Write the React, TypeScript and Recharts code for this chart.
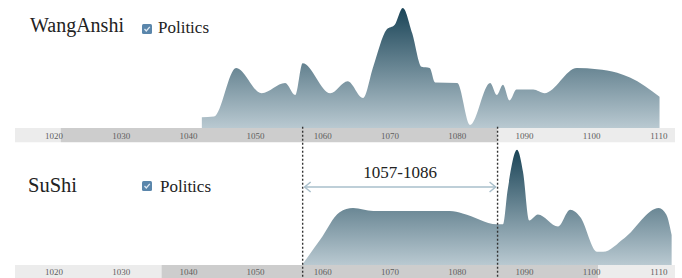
import { ComposedChart, Area, XAxis, YAxis, ReferenceArea, ReferenceLine } from "recharts";

// Wang Anshi, politics activity (relative height, peak = 100)
const wangYears = [
  1042, 1043.8, 1047.1, 1050.9, 1054.4, 1055.9, 1057, 1061.1, 1063.7, 1066, 1067.5, 1069.5,
  1070.7, 1071.9, 1073.3, 1074.7, 1075.9, 1076.7, 1080, 1081.9, 1084.9, 1085.9, 1086.8,
  1087.8, 1088.8, 1091.3, 1093, 1097.8, 1100.8, 1103.8, 1105.7, 1110.1,
];
const wangValues = [
  9, 9.5, 50, 29, 37.5, 27.5, 54, 29, 39, 25, 51, 82, 86, 100, 79, 51, 50, 38, 37.5, 2.5, 37.5,
  27.5, 36, 23, 32, 32, 29, 50, 49, 46, 42, 26,
];

// Su Shi, politics activity
const suYears = [
  1056.9, 1059.6, 1062.5, 1064.5, 1067.5, 1078.9, 1080.8, 1085.9, 1086.8, 1087.5, 1088.9,
  1089.8, 1090.7, 1092, 1095, 1096.8, 1098.3, 1100.8, 1101.7, 1104.9, 1110, 1111.1, 1111.9,
];
const suValues = [
  0, 21, 44, 47.5, 45, 45, 43, 34, 34, 62.5, 96, 77, 37, 42, 32, 46, 40, 11, 11, 22.5, 47.5, 42, 25,
];

const tickYears = [1020, 1030, 1040, 1050, 1060, 1070, 1080, 1090, 1100, 1110];
const wangLife = [1021, 1086];
const suLife = [1036, 1101];
const overlap = [1057, 1086];

const X_MIN = 1014.2;
const X_MAX = 1112.4;

const wangData = wangYears.map((year, i) => ({ year, value: wangValues[i] }));
const suData = suYears.map((year, i) => ({ year, value: suValues[i] }));

const serif = "'Liberation Serif', 'DejaVu Serif', serif";

// draws the year label inside both timeline bands
function YearLabels(props: any) {
  const { x1, label } = props;
  const style = { fontFamily: serif, fontSize: 9, fill: "#5e5e5e" };
  return (
    <g>
      <text x={x1} y={138.5} textAnchor="middle" {...style}>{label}</text>
      <text x={x1} y={274.5} textAnchor="middle" {...style}>{label}</text>
    </g>
  );
}

function RangeArrow(props: any) {
  const { x1, y1, x2 } = props;
  const c = "#a9bfcb";
  return (
    <g>
      <line x1={x1 + 2} y1={y1} x2={x2 - 2} y2={y1} stroke={c} strokeWidth={1.5} />
      <path d={`M${x1 + 8},${y1 - 5} L${x1 + 2},${y1} L${x1 + 8},${y1 + 5}`} stroke={c} strokeWidth={1.5} fill="none" />
      <path d={`M${x2 - 8},${y1 - 5} L${x2 - 2},${y1} L${x2 - 8},${y1 + 5}`} stroke={c} strokeWidth={1.5} fill="none" />
      <text x={(x1 + x2) / 2} y={y1 - 9} textAnchor="middle" fontFamily={serif} fontSize={17} fill="#222">
        {overlap[0]}-{overlap[1]}
      </text>
    </g>
  );
}

function Checkbox({ x, y }: { x: number; y: number }) {
  return (
    <g>
      <rect x={x} y={y} width={10} height={10} rx={1.5} fill="#5a86ab" />
      <path d={`M${x + 2.5},${y + 5} L${x + 4.3},${y + 7} L${x + 7.8},${y + 2.8}`} stroke="#dfe9f2" strokeWidth={1.3} fill="none" />
    </g>
  );
}

export default function App() {
  return (
    <div style={{ position: "absolute", left: 0, top: 0, width: 682, height: 278, background: "#fff" }}>
      <ComposedChart width={682} height={278} margin={{ top: 0, right: 7, bottom: 0, left: 15 }}>
        <defs>
          <linearGradient id="tealFade" x1="0" y1="0" x2="0" y2="1">
            <stop offset="0%" stopColor="#1a4457" />
            <stop offset="100%" stopColor="#b9c9d1" />
          </linearGradient>
        </defs>
        <XAxis type="number" dataKey="year" domain={[X_MIN, X_MAX]} allowDataOverflow hide />
        <YAxis yAxisId="top" hide type="number" domain={[-125, 106.67]} allowDataOverflow />
        <YAxis yAxisId="bot" hide type="number" domain={[-10.83, 220.83]} allowDataOverflow />

        <ReferenceArea yAxisId="top" x1={X_MIN} x2={wangLife[0]} y1={-11.8} y2={0} fill="#ececec" fillOpacity={1} />
        <ReferenceArea yAxisId="top" x1={wangLife[0]} x2={wangLife[1]} y1={-11.8} y2={0} fill="#cdcdcd" fillOpacity={1} />
        <ReferenceArea yAxisId="top" x1={wangLife[1]} x2={X_MAX} y1={-11.8} y2={0} fill="#ececec" fillOpacity={1} />
        <ReferenceArea yAxisId="bot" x1={X_MIN} x2={suLife[0]} y1={-10.83} y2={0} fill="#ececec" fillOpacity={1} />
        <ReferenceArea yAxisId="bot" x1={suLife[0]} x2={suLife[1]} y1={-10.83} y2={0} fill="#cdcdcd" fillOpacity={1} />
        <ReferenceArea yAxisId="bot" x1={suLife[1]} x2={X_MAX} y1={-10.83} y2={0} fill="#ececec" fillOpacity={1} />

        <Area
          yAxisId="top"
          data={wangData}
          dataKey="value"
          type="monotone"
          baseValue={0}
          stroke="none"
          fill="url(#tealFade)"
          fillOpacity={1}
          isAnimationActive={false}
        />
        <Area
          yAxisId="bot"
          data={suData}
          dataKey="value"
          type="monotone"
          baseValue={0}
          stroke="none"
          fill="url(#tealFade)"
          fillOpacity={1}
          isAnimationActive={false}
        />

        {tickYears.map((yr) => (
          <ReferenceLine
            key={`t${yr}`}
            yAxisId="top"
            x={yr}
            stroke="none"
            shape={(p: any) => <YearLabels {...p} label={yr} />}
          />
        ))}

        {overlap.map((yr) => (
          <ReferenceLine
            key={yr}
            yAxisId="top"
            segment={[{ x: yr, y: 1 }, { x: yr, y: -125 }]}
            stroke="#333"
            strokeWidth={1.4}
            strokeDasharray="2 2"
          />
        ))}
        <ReferenceLine
          yAxisId="bot"
          segment={[{ x: overlap[0], y: 65 }, { x: overlap[1], y: 65 }]}
          shape={RangeArrow}
        />
      </ComposedChart>

      <svg width={682} height={278} style={{ position: "absolute", left: 0, top: 0, pointerEvents: "none" }}>
        <text x={30} y={32} fontFamily={serif} fontSize={20} fill="#222">WangAnshi</text>
        <Checkbox x={142} y={24} />
        <text x={158} y={33} fontFamily={serif} fontSize={17} fill="#222">Politics</text>
        <text x={28} y={192} fontFamily={serif} fontSize={20.5} fill="#222">SuShi</text>
        <Checkbox x={142} y={181} />
        <text x={160} y={192} fontFamily={serif} fontSize={17} fill="#222">Politics</text>
      </svg>
    </div>
  );
}
